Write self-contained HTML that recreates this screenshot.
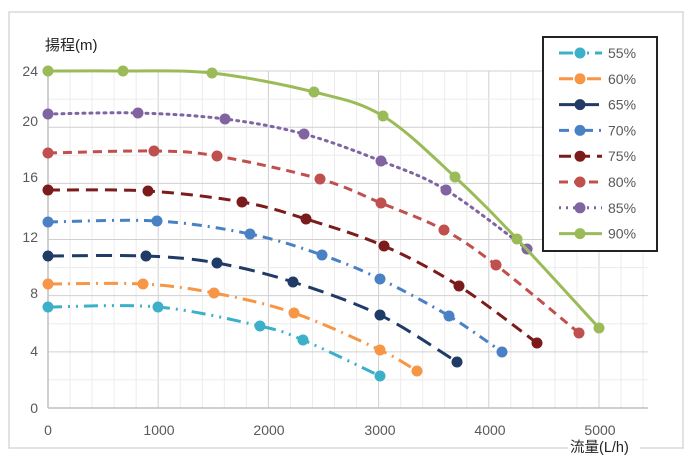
<!DOCTYPE html>
<html><head><meta charset="utf-8"><style>
body{margin:0;background:#fff;}
svg{display:block;font-family:"Liberation Sans","Noto Sans CJK JP",sans-serif;}
</style></head><body>
<svg id="s" width="689" height="469" viewBox="0 0 689 469">
<rect x="0" y="0" width="689" height="469" fill="#fff"/>
<rect x="9" y="12" width="674" height="436" fill="#fff" stroke="#d9d9d9" stroke-width="1.5"/>
<g id="grid"></g>
<g id="series"></g>
<g font-size="14" fill="#595959">
<text x="38" y="76" text-anchor="end">24</text>
<text x="38" y="126" text-anchor="end">20</text>
<text x="38" y="182" text-anchor="end">16</text>
<text x="38" y="242" text-anchor="end">12</text>
<text x="38" y="298" text-anchor="end">8</text>
<text x="38" y="356" text-anchor="end">4</text>
<text x="38" y="413" text-anchor="end">0</text>
<text x="48" y="435" text-anchor="middle">0</text>
<text x="159" y="435" text-anchor="middle">1000</text>
<text x="269" y="435" text-anchor="middle">2000</text>
<text x="380" y="435" text-anchor="middle">3000</text>
<text x="490" y="435" text-anchor="middle">4000</text>
<text x="600" y="435" text-anchor="middle">5000</text>
</g>
<text x="45" y="50" font-size="15" fill="#222">揚程(m)</text>
<rect x="568" y="436" width="72" height="22" fill="#fff"/>
<text x="570" y="452" font-size="14.5" fill="#222">流量(L/h)</text>
<rect x="543" y="37" width="114" height="214" fill="#fff" stroke="#222" stroke-width="2"/>
<g id="legend"></g>
</svg>
<script>
const NS="http://www.w3.org/2000/svg";
function el(t,a,p){const e=document.createElementNS(NS,t);for(const k in a)e.setAttribute(k,a[k]);p.appendChild(e);return e;}
const g=document.getElementById('grid');
// minor vertical every 200 units (22.04px)
for(let i=0;i<=27;i++){const x=48+i*22.04;el('line',{x1:x,y1:71,x2:x,y2:408,stroke:i%5==0?'#d0d0d0':'#ececec','stroke-width':1},g);}
for(let i=0;i<=12;i++){const y=408-i*28.08;el('line',{x1:48,y1:y,x2:648,y2:y,stroke:i%2==0?'#d0d0d0':'#ececec','stroke-width':1},g);}
el('line',{x1:48,y1:71,x2:48,y2:408,stroke:'#bfbfbf','stroke-width':1.5},g);
el('line',{x1:48,y1:408,x2:648,y2:408,stroke:'#bfbfbf','stroke-width':1.5},g);
const S=[
['55%','#3cb0c8','14 6 2 6 2 6',[[48,307],[158,307],[260,326],[303,340],[380,376]]],
['60%','#f79646','14 6 2 6',[[48,284],[143,284],[214,293],[294,313],[380,350],[417,371]]],
['65%','#1f3b66','16 8',[[48,256],[146,256],[217,263],[293,282],[380,315],[457,362]]],
['70%','#4a80c4','10 6 2 6',[[48,222],[157,221],[250,234],[322,255],[380,279],[449,316],[502,352]]],
['75%','#7b1b1b','12 7',[[48,190],[148,191],[242,202],[306,219],[384,246],[459,286],[537,343]]],
['80%','#c0504d','9 6',[[48,153],[154,151],[217,156],[320,179],[381,203],[444,230],[496,265],[579,333]]],
['85%','#8064a2','2 5',[[48,114],[138,113],[225,119],[304,134],[381,161],[446,190],[527,249]]],
['90%','#9bbb59','',[[48,71],[123,71],[212,73],[314,92],[383,116],[455,177],[517,239],[599,328]]]
];
function smooth(p){let d=`M${p[0][0]},${p[0][1]}`;for(let i=0;i<p.length-1;i++){const p0=p[i-1]||p[i],p1=p[i],p2=p[i+1],p3=p[i+2]||p2;const t=6;d+=` C${p1[0]+(p2[0]-p0[0])/t},${p1[1]+(p2[1]-p0[1])/t} ${p2[0]-(p3[0]-p1[0])/t},${p2[1]-(p3[1]-p1[1])/t} ${p2[0]},${p2[1]}`;}return d;}
const sg=document.getElementById('series'),lg=document.getElementById('legend');
S.forEach((s,i)=>{
 const a={d:smooth(s[3]),fill:'none',stroke:s[1],'stroke-width':3,'stroke-linecap':s[2]=='2 5'?'round':'butt'};
 if(s[2])a['stroke-dasharray']=s[2];
 el('path',a,sg);
 s[3].forEach(p=>el('circle',{cx:p[0],cy:p[1],r:5.5,fill:s[1]},sg));
 const y=53+i*25.8;
 const la={x1:559,y1:y,x2:602,y2:y,stroke:s[1],'stroke-width':3};
 if(s[2])la['stroke-dasharray']=s[2];
 el('line',la,lg);
 el('circle',{cx:580,cy:y,r:5.5,fill:s[1]},lg);
 const t=el('text',{x:608,y:y+5,'font-size':14,fill:'#595959'},lg);t.textContent=s[0];
});
</script>
</body></html>
